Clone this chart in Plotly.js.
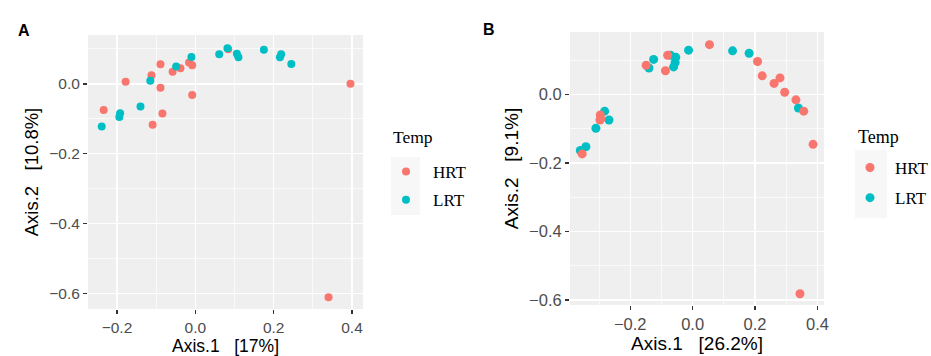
<!DOCTYPE html>
<html>
<head>
<meta charset="utf-8">
<script src="https://cdn.plot.ly/plotly-3.0.1.min.js"></script>
<style>html,body{margin:0;padding:0;background:#fff;}#chart{width:931px;height:356px;}</style>
</head>
<body>
<div id="chart"></div>
<script>
// Panel A data (Axis.1 [17%], Axis.2 [10.8%])
const aHRT_x = [-0.234,-0.178,-0.112,-0.089,-0.089,-0.084,-0.109,-0.058,-0.038,-0.016,-0.008,-0.008,0.084,0.396,0.340];
const aHRT_y = [-0.075,0.006,0.025,0.056,-0.011,-0.085,-0.117,0.035,0.045,0.061,0.053,-0.032,0.099,0.000,-0.611];
const aLRT_x = [-0.239,-0.194,-0.192,-0.140,-0.115,-0.049,-0.010,0.061,0.082,0.106,0.110,0.175,0.219,0.216,0.245];
const aLRT_y = [-0.122,-0.095,-0.084,-0.065,0.009,0.050,0.077,0.085,0.102,0.086,0.076,0.098,0.085,0.076,0.057];
// Panel B data (Axis.1 [26.2%], Axis.2 [9.1%])
const bHRT_x = [-0.354,-0.296,-0.294,-0.297,-0.149,-0.080,-0.087,0.054,0.208,0.223,0.261,0.280,0.295,0.331,0.356,0.386,0.344];
const bHRT_y = [-0.174,-0.060,-0.071,-0.075,0.085,0.114,0.069,0.145,0.096,0.054,0.032,0.048,0.006,-0.016,-0.049,-0.146,-0.582];
const bLRT_x = [-0.360,-0.342,-0.310,-0.282,-0.268,-0.140,-0.125,-0.071,-0.054,-0.056,-0.061,-0.013,0.128,0.181,0.339];
const bLRT_y = [-0.164,-0.153,-0.099,-0.049,-0.075,0.077,0.102,0.114,0.108,0.093,0.080,0.129,0.127,0.120,-0.040];
const groups = ["HRT","LRT"];
const legendTitle = "Temp";
const panelLabels = ["A","B"];
const xTitles = ["Axis.1\u00a0\u00a0\u00a0[17%]","Axis.1\u00a0\u00a0\u00a0[26.2%]"];
const yTitles = ["Axis.2\u00a0\u00a0\u00a0[10.8%]","Axis.2\u00a0\u00a0\u00a0[9.1%]"];

const colHRT = "#F8766D", colLRT = "#00BFC4";
const W = 931, H = 356;
const px = v => v / W, py = v => 1 - v / H;
const SERIF = "Liberation Serif, Times New Roman, serif";
const SANS = "Liberation Sans, Arial, sans-serif";

const traces = [
  {x:aHRT_x, y:aHRT_y, name:groups[0], type:"scatter", mode:"markers", xaxis:"x", yaxis:"y",
   marker:{color:colHRT,size:8}, legend:"legend", legendgroup:"a1", legendrank:1},
  {x:aLRT_x, y:aLRT_y, name:groups[1], type:"scatter", mode:"markers", xaxis:"x", yaxis:"y",
   marker:{color:colLRT,size:8}, legend:"legend", legendgroup:"a2", legendrank:2},
  {x:bLRT_x, y:bLRT_y, name:groups[1], type:"scatter", mode:"markers", xaxis:"x2", yaxis:"y2",
   marker:{color:colLRT,size:9}, legend:"legend2", legendgroup:"b2", legendrank:2},
  {x:bHRT_x, y:bHRT_y, name:groups[0], type:"scatter", mode:"markers", xaxis:"x2", yaxis:"y2",
   marker:{color:colHRT,size:9}, legend:"legend2", legendgroup:"b1", legendrank:1}
];

function ax(domain, range, tsize, title, tt, standoff){
  return {domain:domain, range:range, tick0:0, dtick:0.2, tickformat:".1f",
    showgrid:true, gridcolor:"#fff", gridwidth:1.4, zeroline:false, showline:false,
    ticks:"outside", ticklen:4, tickwidth:1.4, tickcolor:"#333",
    tickfont:{family:SANS, size:tsize, color:"#4D4D4D"},
    minor:{dtick:0.1, showgrid:true, gridcolor:"#fff", gridwidth:0.7},
    title:{text:title, font:{family:SANS, size:tt, color:"#000"}, standoff:standoff},
    automargin:false, fixedrange:true};
}

const layout = {
  width:W, height:H, margin:{l:0,r:0,t:0,b:0,autoexpand:false},
  paper_bgcolor:"#fff", plot_bgcolor:"#EFEFEF",
  showlegend:true,
  xaxis: ax([px(88),px(363)], [-0.274,0.428], 15.5, xTitles[0], 17.5, 3),
  yaxis: Object.assign(ax([py(309),py(35)], [-0.645,0.140], 15.5, yTitles[0], 18.5, 5), {anchor:"x"}),
  xaxis2: Object.assign(ax([px(570),px(824)], [-0.393,0.421], 16.5, xTitles[1], 19, 2), {anchor:"y2"}),
  yaxis2: Object.assign(ax([py(305),py(32)], [-0.615,0.182], 16.5, yTitles[1], 19, 5), {anchor:"x2"}),
  legend:{x:px(379), y:py(154), xanchor:"left", yanchor:"top", bgcolor:"rgba(0,0,0,0)",
    font:{family:SERIF, size:17, color:"#000"}, itemwidth:44,
    traceorder:"grouped", tracegroupgap:3, itemclick:false},
  legend2:{x:px(845), y:py(150), xanchor:"left", yanchor:"top", bgcolor:"rgba(0,0,0,0)",
    font:{family:SERIF, size:17, color:"#000"}, itemwidth:40,
    traceorder:"grouped", tracegroupgap:5, itemclick:false},
  shapes:[
    {type:"rect", xref:"paper", yref:"paper", x0:px(391), x1:px(420), y0:py(215), y1:py(157),
     fillcolor:"#F7F7F7", line:{width:0}, layer:"below"},
    {type:"rect", xref:"paper", yref:"paper", x0:px(855), x1:px(887), y0:py(218), y1:py(150),
     fillcolor:"#F7F7F7", line:{width:0}, layer:"below"}
  ],
  annotations:[
    {text:"<b>"+panelLabels[0]+"</b>", xref:"paper", yref:"paper", x:px(16), y:py(20), showarrow:false,
     font:{family:SANS, size:16, color:"#000"}},
    {text:"<b>"+panelLabels[1]+"</b>", xref:"paper", yref:"paper", x:px(489), y:py(19), showarrow:false,
     font:{family:SANS, size:16, color:"#000"}},
    {text:legendTitle, xref:"paper", yref:"paper", x:px(391), y:py(137), xanchor:"left", yanchor:"middle",
     showarrow:false, font:{family:SERIF, size:17.5, color:"#000"}},
    {text:legendTitle, xref:"paper", yref:"paper", x:px(856), y:py(137), xanchor:"left", yanchor:"middle",
     showarrow:false, font:{family:SERIF, size:18, color:"#000"}}
  ]
};

Plotly.newPlot("chart", traces, layout, {staticPlot:true, displayModeBar:false});
</script>
</body>
</html>
